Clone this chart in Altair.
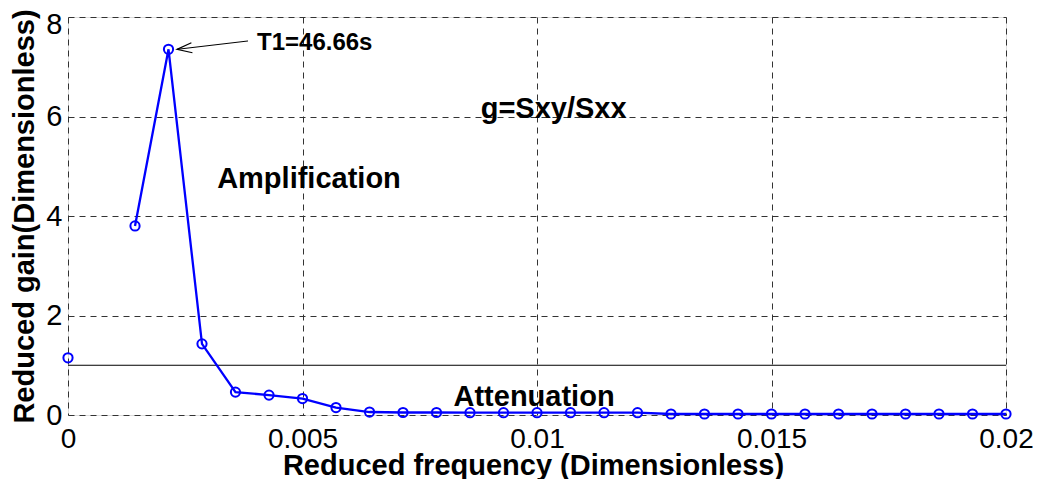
import altair as alt
import pandas as pd

# ---- data ----
freq = [0, 0.000714, 0.001429, 0.002143, 0.002857, 0.003571, 0.004286, 0.005,
        0.005714, 0.006429, 0.007143, 0.007857, 0.008571, 0.009286, 0.01,
        0.010714, 0.011429, 0.012143, 0.012857, 0.013571, 0.014286, 0.015,
        0.015714, 0.016429, 0.017143, 0.017857, 0.018571, 0.019286, 0.02]
gain = [1.15, None, 3.80, 7.35, 1.43, 0.46, 0.40, 0.33, 0.15, 0.06, 0.05,
        0.05, 0.046, 0.046, 0.046, 0.046, 0.046, 0.046, 0.02, 0.02, 0.02,
        0.02, 0.02, 0.02, 0.02, 0.02, 0.02, 0.02, 0.02]

x_ticks = [0, 0.005, 0.01, 0.015, 0.02]
y_ticks = [0, 2, 4, 6, 8]
threshold = [1]

ann_text = ["T1=46.66s", "g=Sxy/Sxx", "Amplification", "Attenuation"]
ann_x = [0.00403, 0.0088, 0.00318, 0.00822]
ann_y = [7.337, 5.97, 4.563, 0.181]
ann_size = [24, 29, 29, 29]

arrow_from = (0.003838, 7.518)
arrow_to = (0.002324, 7.35)

# group ids so the line breaks at missing values
groups, g, prev_none = [], 0, False
for v in gain:
    if v is None:
        prev_none = True
        groups.append(None)
    else:
        if prev_none:
            g += 1
            prev_none = False
        groups.append(g)

df = pd.DataFrame({"f": freq, "g": gain, "grp": groups}).dropna()
ann = pd.DataFrame({"x": ann_x, "y": ann_y, "t": ann_text, "s": ann_size})
arr = pd.DataFrame({"x": [arrow_from[0]], "y": [arrow_from[1]],
                    "x2": [arrow_to[0]], "y2": [arrow_to[1]]})
thr = pd.DataFrame({"y": threshold})

FONT = "Liberation Sans"
xscale = alt.Scale(domain=[0, 0.02], nice=False, zero=False)
yscale = alt.Scale(domain=[0, 8], nice=False)

xaxis = alt.Axis(values=x_ticks, format="~g", grid=True, gridDash=[6, 5],
                 gridColor="#333333", gridWidth=1, ticks=False, tickSize=0,
                 domain=False, labelFont=FONT, labelFontSize=28,
                 labelColor="black", labelPadding=10, labelFlush=False,
                 title="Reduced frequency (Dimensionless)", titleFont=FONT,
                 titleFontSize=29, titleFontWeight="bold", titleColor="black",
                 titleBaseline="alphabetic", titleY=59, titleX=465,
                 titleAnchor="start", titleAlign="center")
yaxis = alt.Axis(values=y_ticks, grid=True, gridDash=[6, 5],
                 gridColor="#333333", gridWidth=1, ticks=False, tickSize=0,
                 domain=False, labelFont=FONT, labelFontSize=29,
                 labelColor="black", labelPadding=6, labelFlush=False,
                 labelOffset={"condition": {"test": "datum.value == 8", "value": 7}, "value": 0},
                 title="Reduced gain(Dimensionless)", titleFont=FONT,
                 titleFontSize=29, titleFontWeight="bold", titleColor="black",
                 titleBaseline="alphabetic", titleX=-35, titleY=199,
                 titleAngle=270, titleAlign="center", titleAnchor="start")

base = alt.Chart(df)

line = base.mark_line(color="#0000FF", strokeWidth=2.3).encode(
    x=alt.X("f:Q", scale=xscale, axis=xaxis),
    y=alt.Y("g:Q", scale=yscale, axis=yaxis),
    detail="grp:N",
)
pts = base.mark_point(shape="circle", filled=False, color="#0000FF",
                      size=85, strokeWidth=2, opacity=1, clip=False).encode(
    x=alt.X("f:Q", scale=xscale),
    y=alt.Y("g:Q", scale=yscale),
)
rule1 = alt.Chart(thr).mark_rule(color="black", strokeWidth=1).encode(
    y=alt.Y("y:Q", scale=yscale)
)
texts = alt.Chart(ann).mark_text(font=FONT, fontWeight="bold", color="black",
                                 align="left", baseline="alphabetic").encode(
    x=alt.X("x:Q", scale=xscale),
    y=alt.Y("y:Q", scale=yscale),
    text="t:N",
    size=alt.Size("s:Q", scale=None, legend=None),
)
shaft = alt.Chart(arr).mark_rule(color="black", strokeWidth=1).encode(
    x=alt.X("x:Q", scale=xscale), y=alt.Y("y:Q", scale=yscale),
    x2="x2:Q", y2="y2:Q",
)
head = alt.Chart(arr).mark_point(
    shape="M2,-0.67L0,0L2,0.67", filled=False, color="black", size=225,
    strokeWidth=1.2, angle=354, opacity=1,
).encode(x=alt.X("x2:Q", scale=xscale), y=alt.Y("y2:Q", scale=yscale))

chart = alt.layer(rule1, line, pts, shaft, head, texts).properties(
    width=938, height=398,
    autosize=alt.AutoSizeParams(type="none"),
    padding={"left": 60, "top": 9, "right": 27, "bottom": 64},
).configure_view(stroke="black", strokeWidth=1.5).configure(background="white")

chart.save("out.html", embed_options={"renderer": "svg", "actions": False})
